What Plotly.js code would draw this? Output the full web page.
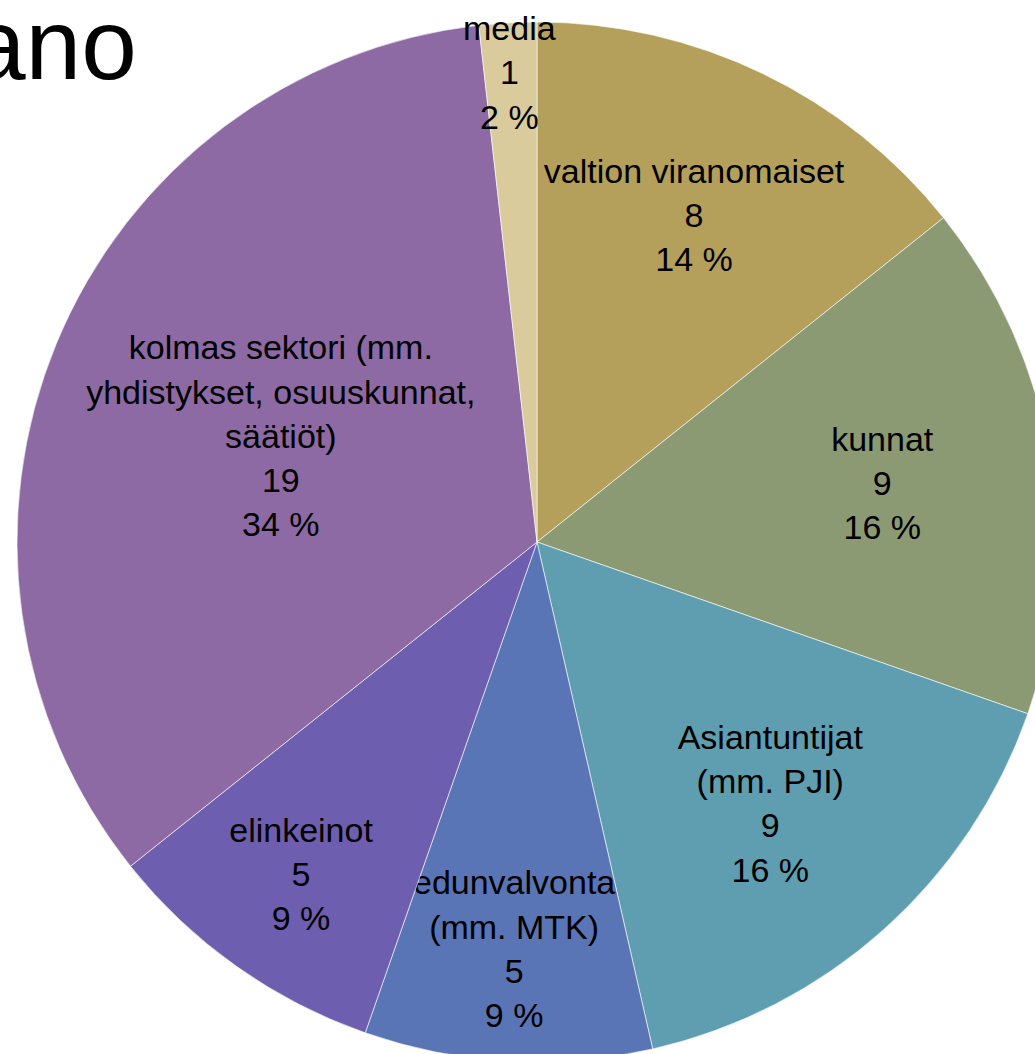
<!DOCTYPE html>
<html>
<head>
<meta charset="utf-8">
<script src="https://cdn.plot.ly/plotly-3.0.1.min.js"></script>
<style>
html,body{margin:0;padding:0;overflow:hidden;background:#fff;}
#chart{position:absolute;left:0;top:0;width:1100px;height:1100px;}
</style>
</head>
<body>
<div id="chart"></div>
<script>
const categories = [
  "valtion viranomaiset",
  "kunnat",
  "Asiantuntijat<br>(mm. PJI)",
  "edunvalvonta<br>(mm. MTK)",
  "elinkeinot",
  "kolmas sektori (mm.<br>yhdistykset, osuuskunnat,<br>säätiöt)",
  "media"
];
const values = [8, 9, 9, 5, 5, 19, 1];
const colors = ["#B5A05B", "#8B9A73", "#5F9EB1", "#5A75B6", "#6E5EB0", "#8E6AA5", "#D9CB9B"];
const titleText = "ano";

const total = values.reduce((a, b) => a + b, 0);
const pct = values.map(v => Math.round(v / total * 100));
const baseTemplate = "%{label}<br>%{value}<br>%{customdata} %";
// the tiny last slice gets a blank leading line so its label sits a little lower
const templates = categories.map((c, i) => i === categories.length - 1 ? "\u00a0<br>" + baseTemplate : baseTemplate);

const W = 1100, H = 1100;
const cx = 537, cy = 542, r = 520;

const trace = {
  type: "pie",
  labels: categories,
  values: values,
  customdata: pct,
  sort: false,
  direction: "clockwise",
  rotation: 0,
  marker: {colors: colors, line: {color: "rgba(255,255,255,0.6)", width: 1}},
  texttemplate: templates,
  textposition: "inside",
  insidetextorientation: "horizontal",
  textfont: {family: "Liberation Sans, Arial, sans-serif", size: 34, color: "#000"},
  hoverinfo: "none",
  showlegend: false,
  domain: {x: [(cx - r) / W, (cx + r) / W], y: [(H - cy - r) / H, (H - cy + r) / H]}
};

const layout = {
  width: W, height: H,
  margin: {l: 0, r: 0, t: 0, b: 0},
  paper_bgcolor: "#fff",
  showlegend: false,
  uniformtext: {mode: "show", minsize: 34},
  annotations: [{
    text: titleText,
    xref: "paper", yref: "paper",
    x: 139 / W, y: 1 - 102 / H,
    xanchor: "right", yanchor: "bottom",
    showarrow: false,
    font: {family: "Liberation Sans, Arial, sans-serif", size: 100, color: "#000"}
  }]
};

Plotly.newPlot("chart", [trace], layout, {displayModeBar: false, staticPlot: true});
</script>
</body>
</html>
